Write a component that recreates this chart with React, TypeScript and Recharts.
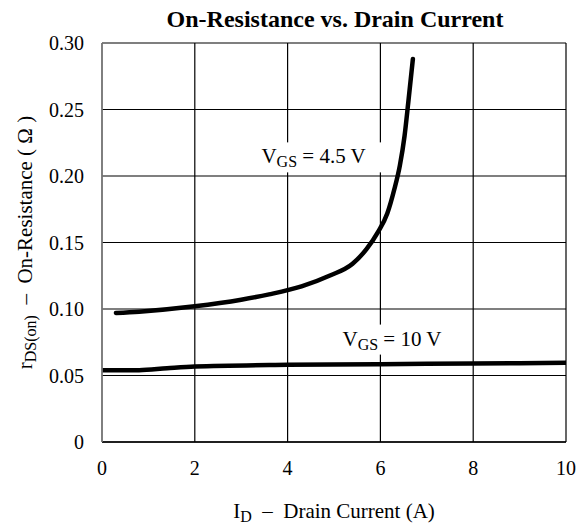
import React from "react";
import { LineChart, Line, XAxis, YAxis, CartesianGrid, ReferenceDot } from "recharts";

const vgs45X = [0.3, 0.8, 2.0, 3.0, 3.6, 4.3, 4.9, 5.4, 5.7, 5.95, 6.15, 6.3, 6.42, 6.52, 6.6, 6.7];
const vgs45Y = [0.097, 0.098, 0.102, 0.107, 0.111, 0.117, 0.125, 0.134, 0.145, 0.158, 0.172, 0.19, 0.208, 0.23, 0.255, 0.288];
const vgs10X = [0, 0.8, 1.4, 2, 4, 6, 8, 10];
const vgs10Y = [0.054, 0.054, 0.0555, 0.0568, 0.058, 0.0585, 0.059, 0.0595];
const xTicks = [0, 2, 4, 6, 8, 10];
const yTicks = [0, 0.05, 0.1, 0.15, 0.2, 0.25, 0.3];

const data45 = vgs45X.map((x, i) => ({ x, y: vgs45Y[i] }));
const data10 = vgs10X.map((x, i) => ({ x, y: vgs10Y[i] }));

const FONT = "'Liberation Serif', 'Times New Roman', serif";

const CurveLabel = (props: any) => {
  const { viewBox, volts, w } = props;
  const cx = viewBox.x;
  const cy = viewBox.y;
  return (
    <g>
      <rect x={cx - w / 2} y={cy - 15} width={w} height={30} fill="#fff" />
      <text x={cx} y={cy + 6} textAnchor="middle" fontFamily={FONT} fontSize={21} fill="#000" style={{ whiteSpace: "pre" }}>
        <tspan>V</tspan>
        <tspan fontSize={16} dy={4}>GS</tspan>
        <tspan dy={-4}>{` = ${volts} V`}</tspan>
      </text>
    </g>
  );
};

const XLabel = (props: any) => {
  const { viewBox } = props;
  const cx = viewBox.x + viewBox.width / 2;
  return (
    <text x={cx} y={viewBox.y + 76} textAnchor="middle" fontFamily={FONT} fontSize={21} fill="#000" style={{ whiteSpace: "pre" }}>
      <tspan>I</tspan>
      <tspan fontSize={16} dy={4}>D</tspan>
      <tspan dy={-4}>{"  \u2013  Drain Current (A)"}</tspan>
    </text>
  );
};

const YLabel = (props: any) => {
  const { viewBox } = props;
  const cy = viewBox.y + viewBox.height / 2;
  const cx = 32;
  return (
    <text
      x={cx}
      y={cy}
      textAnchor="middle"
      fontFamily={FONT}
      fontSize={21}
      fill="#000"
      transform={`rotate(-90 ${cx} ${cy})`}
      style={{ whiteSpace: "pre" }}
    >
      <tspan>r</tspan>
      <tspan fontSize={16} dy={4}>DS(on)</tspan>
      <tspan dy={-4}>{"  \u2013  On-Resistance ( \u03A9 )"}</tspan>
    </text>
  );
};

export default function App() {
  return (
    <div style={{ position: "absolute", left: 0, top: 0, width: 577, height: 526, background: "#fff" }}>
      <LineChart
        width={577}
        height={526}
        margin={{ top: 43, right: 11, left: 0, bottom: 0 }}
        style={{ position: "absolute", left: 0, top: 0 }}
      >
        <CartesianGrid stroke="#000" strokeWidth={1.2} strokeDasharray="" />
        <XAxis
          type="number"
          dataKey="x"
          domain={[0, 10]}
          ticks={xTicks}
          allowDataOverflow
          height={84}
          tickLine={false}
          tickMargin={13}
          axisLine={{ stroke: "#000", strokeWidth: 1.5 }}
          tick={{ fontFamily: FONT, fontSize: 20, fill: "#000" }}
          label={<XLabel />}
        />
        <YAxis
          type="number"
          dataKey="y"
          domain={[0, 0.3]}
          ticks={yTicks}
          allowDataOverflow
          width={102}
          tickLine={false}
          tickMargin={12}
          axisLine={{ stroke: "#888", strokeWidth: 1.5 }}
          tick={{ fontFamily: FONT, fontSize: 20, fill: "#000" }}
          tickFormatter={(v: number) => (v === 0 ? "0" : v.toFixed(2))}
          label={<YLabel />}
        />
        <Line
          data={data45}
          dataKey="y"
          type="monotone"
          stroke="#000"
          strokeWidth={4.5}
          strokeLinecap="round"
          dot={false}
          isAnimationActive={false}
        />
        <Line
          data={data10}
          dataKey="y"
          type="monotone"
          stroke="#000"
          strokeWidth={4.5}
          strokeLinecap="round"
          dot={false}
          isAnimationActive={false}
        />
        <ReferenceDot x={4.56} y={0.214} r={0} label={<CurveLabel volts="4.5" w={140} />} />
        <ReferenceDot x={6.25} y={0.077} r={0} label={<CurveLabel volts="10" w={128} />} />
        <text x={335} y={27} textAnchor="middle" fontFamily={FONT} fontWeight="bold" fontSize={24} fill="#000">
          On-Resistance vs. Drain Current
        </text>
      </LineChart>
    </div>
  );
}
